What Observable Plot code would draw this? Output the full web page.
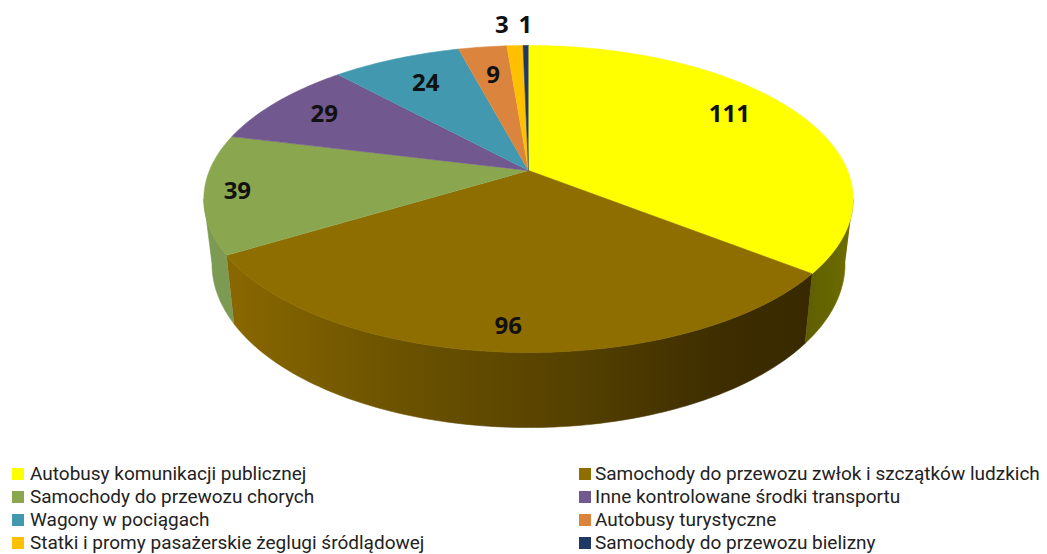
<!DOCTYPE html>
<html><head><meta charset="utf-8">
<script src="https://cdn.jsdelivr.net/npm/d3@7"></script>
<script src="https://cdn.jsdelivr.net/npm/@observablehq/plot@0.6"></script>
<style>
html,body{margin:0;padding:0;background:#fff;width:1047px;height:554px;overflow:hidden}
svg{display:block}
#legend{display:grid;grid-template-columns:567px 468px;margin-left:12px;margin-top:0;grid-auto-rows:23px;font:19px Roboto,sans-serif;color:#222;white-space:nowrap}
#legend div{display:flex;align-items:center;line-height:23px}
#legend i{display:inline-block;width:12px;height:12px;margin-right:6px;flex:none}
#legend div:nth-child(even) i{margin-right:4px}
</style></head><body>
<div id="chart"></div><div id="legend"></div>
<script>
const categories = ["Autobusy komunikacji publicznej","Samochody do przewozu zwłok i szczątków ludzkich","Samochody do przewozu chorych","Inne kontrolowane środki transportu","Wagony w pociągach","Autobusy turystyczne","Statki i promy pasażerskie żeglugi śródlądowej","Samochody do przewozu bielizny"];
const values = [111,96,39,29,24,9,3,1];
const topColors = ["#FFFF00","#8F6E00","#8AA64E","#71588F","#4198AF","#DB843D","#FFC000","#1F3864"];
const sideColors = ["url(#sideYellow)","url(#sideBrown)","#7C9A52","#5f4a78","#37819a","#b96f33","#d9a300","#1a2f55"];
const labelReach = [0.79,0.88,0.90,0.80,0.75,0.74,1.20,1.20];
const labelTurn = [-5,0,0,0,0,0,-2,0];

const W = 1047, H = 462;
// perspective ellipse of the pie's top and bottom faces
const k = 0.1857;
const top3d = (deg, r = 1) => {
  const a = deg * Math.PI / 180, X = r * Math.sin(a), Y = r * Math.cos(a), d = 1 + k * Y;
  return [528 + 319 * X / d, 170 - 148.2 * Y / d];
};
const low3d = (deg) => {
  const a = deg * Math.PI / 180, X = Math.sin(a), Y = Math.cos(a), d = 1 + k * Y;
  return [528 + 311 * X / d, 233 - 158 * Y / d];
};
const total = d3.sum(values);
let cum = 0;
const slices = values.map((v, i) => {
  const a0 = cum / total * 360; cum += v;
  return {i, v, a0, a1: cum / total * 360, mid: (a0 + cum / total * 360) / 2};
});
const span = (a, b) => {
  const n = Math.max(1, Math.ceil(b - a)), o = [];
  for (let j = 0; j <= n; j++) o.push(a + (b - a) * j / n);
  return o;
};
const topPts = [], sidePts = [];
for (const s of slices) {
  const c = topColors[s.i];
  topPts.push({z: s.i, c, x: 528, y: 170});
  for (const t of span(s.a0, s.a1)) { const [x, y] = top3d(t); topPts.push({z: s.i, c, x, y}); }
  const a = Math.max(s.a0, 100.7), b = Math.min(s.a1, 259.3);
  if (b > a) {
    const c2 = sideColors[s.i], ts = span(a, b);
    for (const t of ts) { const [x, y] = top3d(t); sidePts.push({z: s.i, c: c2, x, y}); }
    for (const t of ts.slice().reverse()) { const [x, y] = low3d(t); sidePts.push({z: s.i, c: c2, x, y}); }
  }
}
const labelData = slices.map(s => {
  const [x, y] = top3d(s.mid + labelTurn[s.i], labelReach[s.i]);
  return {x, y, t: String(s.v)};
});
const defs = () => {
  const n = document.createElementNS("http://www.w3.org/2000/svg", "g");
  n.innerHTML = `<defs>
  <linearGradient id="sideBrown" x1="0" x2="1" y1="0" y2="0">
    <stop offset="0" stop-color="#8a6800"/><stop offset="0.3" stop-color="#6b5200"/>
    <stop offset="0.6" stop-color="#544000"/><stop offset="0.85" stop-color="#3d2d00"/><stop offset="1" stop-color="#382900"/>
  </linearGradient>
  <linearGradient id="sideYellow" x1="0" x2="1" y1="0" y2="0">
    <stop offset="0" stop-color="#5e5e00"/><stop offset="1" stop-color="#6e6e00"/>
  </linearGradient></defs>`;
  return n;
};
const poly = (data) => Plot.line(data, {x: "x", y: "y", z: "z", fill: "c", stroke: "c", strokeWidth: 0.6, curve: "linear"});
const chart = Plot.plot({
  width: W, height: H, margin: 0,
  x: {domain: [0, W], range: [0, W], axis: null},
  y: {domain: [0, H], range: [0, H], axis: null},
  color: {type: "identity"},
  marks: [
    defs,
    poly(sidePts),
    poly(topPts),
    Plot.text(labelData, {x: "x", y: "y", text: "t", fontSize: 24, fontWeight: 700, fontFamily: "Open Sans", fill: "#111"})
  ]
});
document.getElementById("chart").append(chart);
const lg = document.getElementById("legend");
categories.forEach((c, i) => {
  const d = document.createElement("div");
  const sw = document.createElement("i"); sw.style.background = topColors[i];
  d.append(sw, document.createTextNode(c));
  lg.append(d);
});
</script>
</body></html>
